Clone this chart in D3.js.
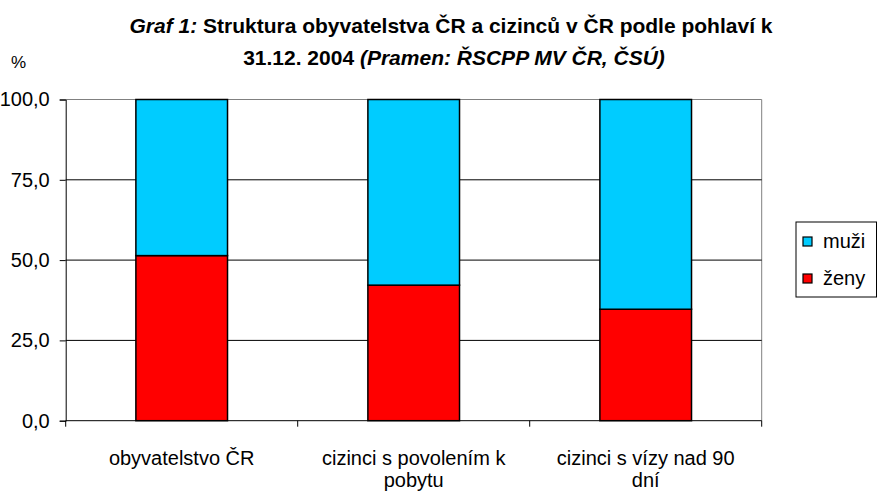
<!DOCTYPE html>
<html>
<head>
<meta charset="utf-8">
<script src="https://cdn.jsdelivr.net/npm/d3@7"></script>
<style>
  body { margin: 0; background: #fff; }
  svg { font-family: "Liberation Sans", Arial, sans-serif; }
</style>
</head>
<body>
<svg width="877" height="491"></svg>
<script>
const categories = [['obyvatelstvo ČR'], ['cizinci s povolením k', 'pobytu'], ['cizinci s vízy nad 90', 'dní']];
const zeny = [51.4, 42.2, 34.7];
const muzi = [48.6, 57.8, 65.3];
const yTicks = [0, 25, 50, 75, 100];
const seriesNames = ['muži', 'ženy'];
const seriesColors = ['#00CCFF', '#FF0000'];

const svg = d3.select('svg');
const plotLeft = 65.7, plotRight = 761.7, plotTop = 99.5, plotBottom = 420.7;
const fs = '20px';

const x = d3.scaleBand()
  .domain(d3.range(categories.length))
  .range([plotLeft, plotRight])
  .paddingInner(0.605)
  .paddingOuter(0.3025);

const y = d3.scaleLinear()
  .domain([0, 100])
  .range([plotBottom, plotTop]);

// plot border (grey top/right)
svg.append('path')
  .attr('d', `M${plotLeft},${plotTop}H${plotRight}V${plotBottom}`)
  .attr('fill', 'none')
  .attr('stroke', '#808080')
  .attr('stroke-width', 1);

// gridlines
svg.append('g')
  .selectAll('line')
  .data(yTicks.filter(d => d > 0 && d < 100))
  .join('line')
  .attr('x1', plotLeft).attr('x2', plotRight)
  .attr('y1', d => y(d)).attr('y2', d => y(d))
  .attr('stroke', '#000').attr('stroke-width', 1);

// y axis
const yAxis = svg.append('g')
  .attr('transform', `translate(${plotLeft},0)`)
  .call(d3.axisLeft(y).tickValues(yTicks).tickSize(6).tickPadding(10)
    .tickFormat(d => d3.format('.1f')(d).replace('.', ',')));
yAxis.select('.domain').attr('stroke', '#000');
yAxis.selectAll('text')
  .attr('font-size', fs)
  .attr('fill', '#000')
  .attr('font-family', '"Liberation Sans", Arial, sans-serif');

// x axis (ticks at band boundaries)
const step = x.step();
const boundaries = d3.range(categories.length + 1).map(i => plotLeft + i * step);
svg.append('line')
  .attr('x1', plotLeft).attr('x2', plotRight)
  .attr('y1', plotBottom).attr('y2', plotBottom)
  .attr('stroke', '#000');
svg.append('g')
  .selectAll('line')
  .data(boundaries)
  .join('line')
  .attr('x1', d => d).attr('x2', d => d)
  .attr('y1', plotBottom).attr('y2', plotBottom + 6)
  .attr('stroke', '#000');

svg.append('g')
  .selectAll('text')
  .data(categories)
  .join('text')
  .attr('text-anchor', 'middle')
  .attr('font-size', fs)
  .attr('fill', '#000')
  .each(function (lines, i) {
    const t = d3.select(this);
    lines.forEach((l, j) => {
      t.append('tspan')
        .attr('x', x(i) + x.bandwidth() / 2)
        .attr('y', 465 + j * 22)
        .text(l);
    });
  });

// bars
const stacked = d3.stack().keys(['zeny', 'muzi'])(
  categories.map((c, i) => ({ zeny: zeny[i], muzi: muzi[i] })));
const colorOf = { zeny: '#FF0000', muzi: '#00CCFF' };

stacked.forEach(layer => {
  svg.append('g')
    .selectAll('rect')
    .data(layer)
    .join('rect')
    .attr('x', (d, i) => x(i))
    .attr('width', x.bandwidth())
    .attr('y', d => y(d[1]))
    .attr('height', d => y(d[0]) - y(d[1]))
    .attr('fill', colorOf[layer.key])
    .attr('stroke', '#000')
    .attr('stroke-width', 1.5);
});

// title
const title = svg.append('g')
  .attr('font-size', '21px')
  .attr('font-weight', 'bold')
  .attr('fill', '#000');
const t1 = title.append('text').attr('x', 451).attr('y', 33).attr('text-anchor', 'middle');
t1.append('tspan').attr('font-style', 'italic').text('Graf 1:');
t1.append('tspan').text(' Struktura obyvatelstva ČR a cizinců v ČR  podle pohlaví k');
const t2 = title.append('text').attr('x', 454).attr('y', 65).attr('text-anchor', 'middle');
t2.append('tspan').text('31.12. 2004 ');
t2.append('tspan').attr('font-style', 'italic').text('(Pramen: ŘSCPP MV ČR, ČSÚ)');

svg.append('text')
  .attr('x', 11).attr('y', 68)
  .attr('font-size', '17px')
  .text('%');

// legend
const legend = svg.append('g');
legend.append('rect')
  .attr('x', 796).attr('y', 222)
  .attr('width', 80.5).attr('height', 75)
  .attr('fill', '#fff')
  .attr('stroke', '#000');
seriesNames.forEach((name, i) => {
  const ly = 241.5 + i * 37;
  legend.append('rect')
    .attr('x', 803).attr('y', ly - 4.5)
    .attr('width', 9).attr('height', 9)
    .attr('fill', seriesColors[i])
    .attr('stroke', '#000')
    .attr('stroke-width', 1.2);
  legend.append('text')
    .attr('x', 823).attr('y', ly + 6)
    .attr('font-size', fs)
    .text(name);
});
</script>
</body>
</html>
